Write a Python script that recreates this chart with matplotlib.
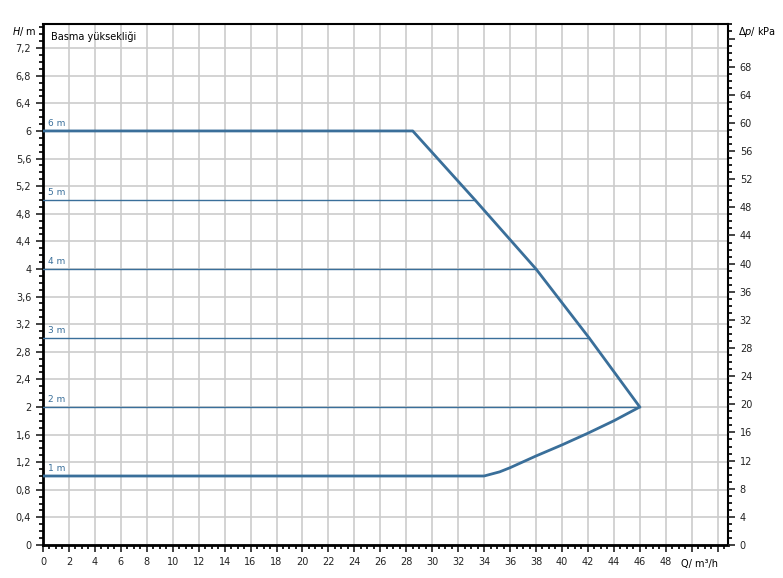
import matplotlib.pyplot as plt
import numpy as np
from matplotlib.ticker import MultipleLocator, FuncFormatter

# max curve of the pump (Q in m3/h, H in m)
max_q = [0, 28.5, 33.3, 38.0, 42.1, 46.0, 44.0, 42.0, 40.0, 38.0, 36.0, 35.2, 34.0, 0]
max_h = [6, 6, 5, 4, 3, 2, 1.80, 1.62, 1.45, 1.29, 1.12, 1.06, 1, 1]

# constant head lines
level_h = [5, 4, 3, 2]
level_q_end = [33.3, 38.0, 42.1, 46.0]
label_h = [6, 5, 4, 3, 2, 1]

blue = '#3a6f9a'

fig = plt.figure(figsize=(7.83, 5.78), dpi=100)
ax = fig.add_axes([43 / 783, 33 / 578, 685 / 783, 521 / 578])

ax.plot(max_q, max_h, color=blue, lw=2.0, solid_joinstyle='round', zorder=3)
for h, q in zip(level_h, level_q_end):
    ax.plot([0, q], [h, h], color=blue, lw=1.0, zorder=3)
for h in label_h:
    ax.text(0.35, h + 0.05, f'{h} m', color=blue, fontsize=6.5, va='bottom', ha='left')

ax.set_xlim(0, 52.8)
ax.set_ylim(0, 7.55)
ax.xaxis.set_major_locator(MultipleLocator(2))
ax.xaxis.set_minor_locator(MultipleLocator(0.5))
ax.yaxis.set_major_locator(MultipleLocator(0.4))
ax.yaxis.set_minor_locator(MultipleLocator(0.1))

def xfmt(v, pos):
    if v > 48.5:
        return ''
    return f'{v:.0f}'

def yfmt(v, pos):
    s = f'{v:.1f}'.rstrip('0').rstrip('.')
    return s.replace('.', ',')

ax.xaxis.set_major_formatter(FuncFormatter(xfmt))
ax.yaxis.set_major_formatter(FuncFormatter(yfmt))
ax.grid(True, which='major', color='#cccccc', lw=1.2)
ax.set_axisbelow(True)

for side in ['left', 'bottom']:
    ax.spines[side].set_linewidth(2)
for side in ['top', 'right']:
    ax.spines[side].set_linewidth(1.5)

ax.tick_params(which='major', length=5, width=1.2, labelsize=7, colors='#222222')
ax.tick_params(which='minor', length=3, width=1.2)

# right axis in kPa
ax2 = ax.twinx()
ax2.set_ylim(0, 7.55 * 9.81)
ax2.yaxis.set_major_locator(MultipleLocator(4))
ax2.yaxis.set_minor_locator(MultipleLocator(1))
ax2.yaxis.set_major_formatter(FuncFormatter(lambda v, p: f'{v:.0f}' if v <= 68.5 else ''))
ax2.tick_params(which='major', length=5, width=1.2, labelsize=7, colors='#222222')
ax2.tick_params(which='minor', length=3, width=1.2)
for s in ax2.spines.values():
    s.set_visible(False)

ax.text(0.012, 0.985, 'Basma yüksekliği', transform=ax.transAxes, fontsize=7,
        va='top', ha='left')
fig.text(12 / 783, 1 - 32 / 578, r'$H$/ m', fontsize=7, va='center', ha='left')
fig.text(738 / 783, 1 - 32 / 578, r'$\Delta p$/ kPa', fontsize=7, va='center', ha='left')
ax.text(50.6, -0.2, 'Q/ m³/h', fontsize=7, va='top', ha='center')

fig.savefig('out.png', dpi=100)
